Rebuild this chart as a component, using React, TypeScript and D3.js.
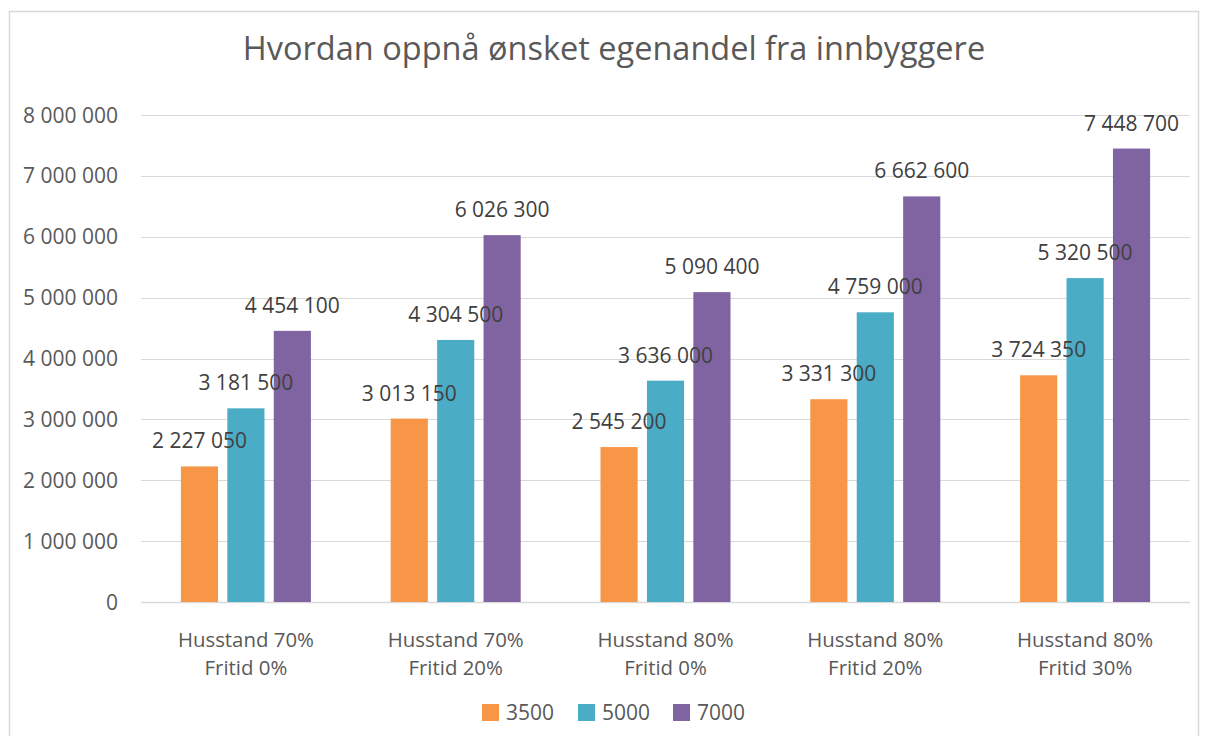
import React, { useEffect, useRef } from 'react';
import * as d3 from 'd3';

const categories: string[][] = [
  ['Husstand 70%', 'Fritid 0%'],
  ['Husstand 70%', 'Fritid 20%'],
  ['Husstand 80%', 'Fritid 0%'],
  ['Husstand 80%', 'Fritid 20%'],
  ['Husstand 80%', 'Fritid 30%'],
];
const seriesNames = ['3500', '5000', '7000'];
const seriesColors = ['#F79646', '#4BACC6', '#8064A2'];
const values3500 = [2227050, 3013150, 2545200, 3331300, 3724350];
const values5000 = [3181500, 4304500, 3636000, 4759000, 5320500];
const values7000 = [4454100, 6026300, 5090400, 6662600, 7448700];
const yTicks = [0, 1000000, 2000000, 3000000, 4000000, 5000000, 6000000, 7000000, 8000000];
const title = 'Hvordan oppnå ønsket egenandel fra innbyggere';

const W = 1208;
const H = 736;
const FONT = '"Open Sans", sans-serif';

const fmt = (v: number) => d3.format(',')(v).replace(/,/g, ' ');

const App = () => {
  const svgRef = useRef<SVGSVGElement>(null);

  useEffect(() => {
    const svg = d3.select(svgRef.current);
    svg.selectAll('*').remove();

    const plot = { left: 141, right: 1190, top: 115, bottom: 602 };
    const series = [values3500, values5000, values7000];

    // chart frame
    svg.append('rect')
      .attr('x', 9.5).attr('y', 11.5)
      .attr('width', 1189).attr('height', 740)
      .style('fill', '#fff').style('stroke', '#D9D9D9').style('stroke-width', 1.5);

    svg.append('text')
      .attr('x', 614).attr('y', 60)
      .attr('text-anchor', 'middle')
      .style('font-family', FONT).style('font-size', '32.5px')
      .style('fill', '#595959')
      .text(title);

    const y = d3.scaleLinear().domain([0, 8000000]).range([plot.bottom, plot.top]);
    const x0 = d3.scaleBand<number>()
      .domain(d3.range(categories.length))
      .range([plot.left, plot.right])
      .paddingInner(0).paddingOuter(0);
    const groupW = 130;
    const x1 = d3.scaleBand<number>()
      .domain(d3.range(seriesNames.length))
      .range([0, groupW])
      .paddingInner(0.2);
    const barX = (i: number, s: number) =>
      (x0(i) as number) + (x0.bandwidth() - groupW) / 2 + (x1(s) as number);

    // gridlines
    svg.append('g').selectAll('line')
      .data(yTicks).enter().append('line')
      .attr('x1', plot.left).attr('x2', plot.right)
      .attr('y1', d => Math.round(y(d)) + 0.5).attr('y2', d => Math.round(y(d)) + 0.5)
      .style('stroke', '#D9D9D9').style('stroke-width', d => d === 0 ? 1.5 : 1.2);

    // y tick labels
    svg.append('g').selectAll('text')
      .data(yTicks).enter().append('text')
      .attr('x', 118).attr('y', d => y(d) + 7.5)
      .attr('text-anchor', 'end')
      .style('font-family', FONT).style('font-size', '21px')
      .style('fill', '#595959')
      .text(d => fmt(d));

    // bars
    series.forEach((vals, s) => {
      svg.append('g').selectAll('rect')
        .data(vals).enter().append('rect')
        .attr('x', (d, i) => barX(i, s))
        .attr('y', d => y(d))
        .attr('width', x1.bandwidth())
        .attr('height', d => plot.bottom - y(d))
        .style('fill', seriesColors[s]);
    });

    // value labels, drawn on top of all bars
    series.forEach((vals, s) => {
      svg.append('g').selectAll('text')
        .data(vals).enter().append('text')
        .attr('x', (d, i) => barX(i, s) + x1.bandwidth() / 2)
        .attr('y', d => y(d) - 18)
        .attr('text-anchor', 'middle')
        .style('font-family', FONT).style('font-size', '21px')
        .style('fill', '#404040')
        .text(d => fmt(d));
    });

    // category labels
    const cat = svg.append('g');
    categories.forEach((lines, i) => {
      const cx = (x0(i) as number) + x0.bandwidth() / 2;
      lines.forEach((line, j) => {
        cat.append('text')
          .attr('x', cx).attr('y', 647 + j * 28)
          .attr('text-anchor', 'middle')
          .style('font-family', FONT).style('font-size', '20.4px')
          .style('fill', '#595959')
          .text(line);
      });
    });

    // legend
    const legendX = [482, 578, 673];
    const legend = svg.append('g');
    seriesNames.forEach((name, i) => {
      legend.append('rect')
        .attr('x', legendX[i]).attr('y', 704)
        .attr('width', 17).attr('height', 17)
        .style('fill', seriesColors[i]);
      legend.append('text')
        .attr('x', legendX[i] + 24).attr('y', 720)
        .style('font-family', FONT).style('font-size', '21px')
        .style('fill', '#595959')
        .text(name);
    });
  }, []);

  return (
    <div style={{ position: 'absolute', left: 0, top: 0, width: W, height: H, overflow: 'hidden', background: '#fff' }}>
      <svg ref={svgRef} width={W} height={H} />
    </div>
  );
};

export default App;
